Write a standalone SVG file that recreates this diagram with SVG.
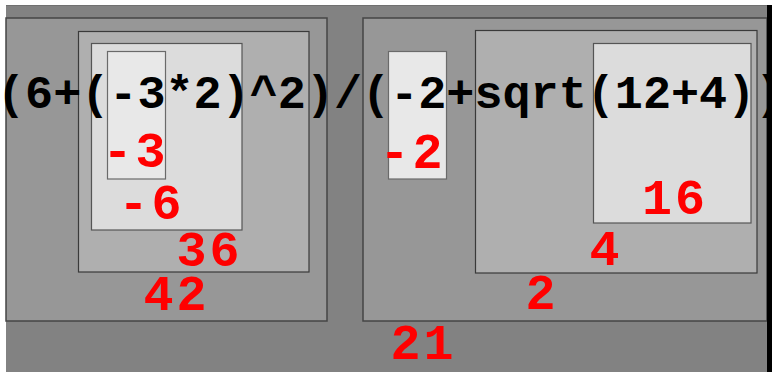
<svg xmlns="http://www.w3.org/2000/svg" width="772" height="372" viewBox="0 0 772 372">
<style>
.box{stroke-width:1.2}
.lv1{fill:#979797;stroke:#454545;stroke-width:1.5}
.lv2{fill:#afafaf;stroke:#3a3a3a}
.lv3{fill:#dcdcdc;stroke:#555}
.lv4{fill:#e8e8e8;stroke:#6a6a6a}
.expr{font-family:"Liberation Mono","Courier New",monospace;font-weight:bold;font-size:46.8px;fill:#000}
.val{font-family:"Liberation Mono","Courier New",monospace;font-weight:bold;font-size:50px;letter-spacing:3px;fill:#ff0000}
</style>
<rect x="0" y="0" width="772" height="372" fill="#ffffff"/>
<rect x="6" y="5" width="766" height="367" fill="#828282"/>
<line x1="6" y1="5.5" x2="772" y2="5.5" stroke="#707070" stroke-width="1"/>
<g id="node-42">
<rect class="box lv1" x="6" y="18" width="321" height="303"/>
<text class="val" x="143.5" y="310">42</text>
</g>
<g id="node-36">
<rect class="box lv2" x="78.5" y="31.5" width="230.5" height="240.5"/>
<text class="val" x="176.5" y="266">36</text>
</g>
<g id="node-m6">
<rect class="box lv3" x="91.5" y="43.5" width="150.5" height="186.5"/>
<text class="val" x="118.5" y="219">-6</text>
</g>
<g id="node-m3">
<rect class="box lv4" x="107.5" y="51.5" width="58" height="127.5"/>
<text class="val" x="102.5" y="167">-3</text>
</g>
<g id="node-2">
<rect class="box lv1" x="363" y="18" width="404" height="303"/>
<text class="val" x="525.5" y="309">2</text>
</g>
<g id="node-m2">
<rect class="box lv4" x="388.5" y="51.5" width="58" height="127.5"/>
<text class="val" x="379.5" y="168">-2</text>
</g>
<g id="node-4">
<rect class="box lv2" x="475.5" y="30.5" width="281.5" height="242.5"/>
<text class="val" x="589.5" y="265">4</text>
</g>
<g id="node-16">
<rect class="box lv3" x="593.5" y="43.5" width="157.5" height="179.5"/>
<text class="val" x="642" y="214">16</text>
</g>
<g id="node-21">
<text class="val" x="390.5" y="359">21</text>
</g>
<g id="connectors"></g>
<text class="expr" x="-3" y="108">(6+(-3*2)^2)/(-2+sqrt(12+4))</text>
<rect x="767" y="5" width="5" height="367" fill="#000"/>
</svg>
